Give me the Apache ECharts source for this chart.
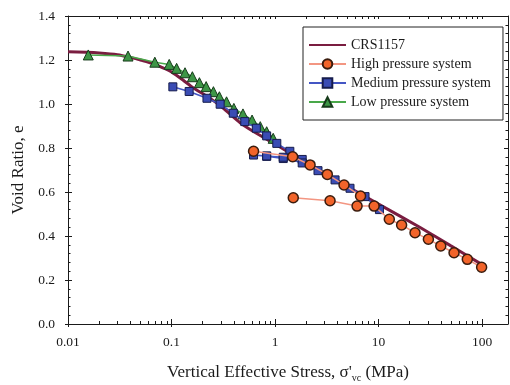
<!DOCTYPE html>
<html>
<head>
<meta charset="utf-8">
<script src="https://cdn.jsdelivr.net/npm/echarts@6/dist/echarts.min.js"></script>
<style>
  html, body { margin: 0; padding: 0; background: #fff; }
  #chart { width: 510px; height: 385px; }
</style>
</head>
<body>
<div id="chart"></div>
<script>
// Stress axis (log scale, MPa)
const stressMajorTicks = [0.01, 0.1, 1, 10, 100];
const stressTickLabels = ['0.01', '0.1', '1', '10', '100'];
const stressMin = 0.01;
const stressMax = 178;

// Void ratio axis
const ratioMin = 0;
const ratioMax = 1.4;
const ratioStep = 0.2;

// CRS1157 constant-rate-of-strain curve: [stress MPa, void ratio]
const crsCurve = [
  [0.01, 1.237], [0.015, 1.235], [0.02, 1.232], [0.03, 1.224], [0.04, 1.212],
  [0.05, 1.2], [0.06, 1.19], [0.072, 1.177], [0.085, 1.162], [0.1, 1.146],
  [0.129, 1.109], [0.16, 1.075], [0.22, 1.035], [0.3, 0.99], [0.38, 0.948],
  [0.46, 0.915], [0.55, 0.89], [0.7, 0.86], [1, 0.818], [2, 0.733],
  [5, 0.625], [10, 0.545], [25, 0.44], [50, 0.355], [100, 0.27]
];

// High pressure system (two loading branches, separated by a gap)
const highPressure = [
  [0.62, 0.785], [1.48, 0.76], [2.18, 0.723], [3.2, 0.68], [4.64, 0.632], [6.7, 0.582],
  '-',
  [1.5, 0.574], [3.4, 0.56], [6.2, 0.536], [9.06, 0.536], [12.7, 0.476],
  [16.7, 0.45], [22.5, 0.415], [30.3, 0.385], [39.9, 0.355], [53.6, 0.324],
  [72, 0.294], [99, 0.258]
];

// Medium pressure system (with an unload–reload loop)
const mediumPressure = [
  [0.103, 1.078], [0.148, 1.057], [0.22, 1.026], [0.295, 0.999], [0.395, 0.958],
  [0.51, 0.92], [0.66, 0.89], [0.83, 0.855], [1.04, 0.821], [1.39, 0.785],
  [1.83, 0.748], [1.2, 0.752], [0.83, 0.762], [0.62, 0.768], [0.83, 0.764],
  [1.2, 0.758], [1.83, 0.732], [2.6, 0.697], [3.8, 0.655], [5.3, 0.617],
  [7.4, 0.579], [10.2, 0.52]
];

// Low pressure system
const lowPressure = [
  [0.0157, 1.223], [0.038, 1.218], [0.069, 1.19], [0.095, 1.18], [0.112, 1.162],
  [0.135, 1.142], [0.159, 1.124], [0.186, 1.097], [0.216, 1.079], [0.254, 1.056],
  [0.29, 1.033], [0.34, 1.01], [0.40, 0.98], [0.49, 0.955], [0.60, 0.927],
  [0.72, 0.897], [0.83, 0.874], [0.96, 0.844]
];

// Minor log ticks 1..9 within every decade
const stressAllTicks = [];
stressMajorTicks.forEach(d => {
  for (let k = 1; k <= 9; k++) {
    const v = +(d * k).toPrecision(6);
    if (v >= stressMin && v <= stressMax) stressAllTicks.push(v);
  }
});

const serif = 'Liberation Serif, Times New Roman, serif';
const ink = '#1a1a1a';
const frameLine = { show: true, onZero: false, lineStyle: { color: ink, width: 1 } };

function stressAxis(opts) {
  return Object.assign({
    type: 'log',
    logBase: 10,
    min: stressMin,
    max: stressMax,
    axisLine: { show: false, onZero: false },
    axisLabel: { show: false },
    axisTick: { show: false },
    splitLine: { show: false },
    minorTick: { show: false },
    minorSplitLine: { show: false }
  }, opts);
}

function ratioAxis(opts) {
  return Object.assign({
    type: 'value',
    min: ratioMin,
    max: ratioMax,
    interval: ratioStep,
    axisLine: { show: false, onZero: false },
    axisLabel: { show: false },
    axisTick: { show: false },
    splitLine: { show: false },
    minorTick: { show: false }
  }, opts);
}

const chart = echarts.init(document.getElementById('chart'), null, { renderer: 'canvas' });

chart.setOption({
  backgroundColor: '#ffffff',
  animation: false,
  grid: { left: 68, right: 2, top: 16, bottom: 61, containLabel: false, outerBoundsMode: 'none' },
  legend: {
    data: [
      { name: 'CRS1157', itemStyle: { opacity: 0 } },
      'High pressure system', 'Medium pressure system', 'Low pressure system'
    ],
    orient: 'vertical',
    left: 303,
    top: 27,
    padding: [11, 12, 11, 5],
    itemWidth: 37,
    itemHeight: 12,
    itemGap: 5,
    borderColor: '#222',
    borderWidth: 1,
    backgroundColor: '#fff',
    textStyle: { fontFamily: serif, fontSize: 14, color: ink }
  },
  xAxis: [
    stressAxis({
      position: 'bottom',
      name: "{a|Vertical Effective Stress, σ'}{s|vc}{a| (MPa)}",
      nameLocation: 'middle',
      nameGap: 39,
      nameTextStyle: {
        rich: {
          a: { fontFamily: serif, fontSize: 17, color: ink, lineHeight: 20 },
          s: { fontFamily: serif, fontSize: 10, color: ink, lineHeight: 20, verticalAlign: 'bottom', padding: [9, 0, 0, 0] }
        }
      },
      axisLine: frameLine,
      axisTick: { show: true, inside: false, length: 3, customValues: stressMajorTicks, lineStyle: { color: ink } },
      axisLabel: {
        show: true, customValues: stressMajorTicks, margin: 11,
        fontFamily: serif, fontSize: 13.5, color: ink,
        formatter: v => stressTickLabels[stressMajorTicks.findIndex(t => Math.abs(Math.log10(t) - Math.log10(v)) < 1e-6)] ?? ''
      }
    }),
    stressAxis({
      position: 'bottom',
      axisTick: { show: true, inside: true, length: 3, customValues: stressAllTicks, lineStyle: { color: ink } }
    }),
    stressAxis({
      position: 'bottom',
      axisTick: { show: true, inside: true, length: 5, customValues: stressMajorTicks, lineStyle: { color: ink } }
    }),
    stressAxis({
      position: 'top',
      axisLine: frameLine,
      axisTick: { show: true, inside: true, length: 3, customValues: stressAllTicks, lineStyle: { color: ink } }
    })
  ],
  yAxis: [
    ratioAxis({
      position: 'left',
      name: 'Void Ratio, e',
      nameLocation: 'middle',
      nameGap: 36,
      nameRotate: 90,
      nameTextStyle: { fontFamily: serif, fontSize: 17, color: ink },
      axisLine: frameLine,
      axisTick: { show: true, inside: true, length: 4, lineStyle: { color: ink } },
      minorTick: { show: true, splitNumber: 5, length: 2.5, lineStyle: { color: ink } },
      axisLabel: {
        show: true, margin: 13, fontFamily: serif, fontSize: 13.5, color: ink,
        formatter: v => v.toFixed(1)
      }
    }),
    ratioAxis({
      position: 'left',
      axisTick: { show: true, inside: false, length: 3, lineStyle: { color: ink } }
    }),
    ratioAxis({
      position: 'right',
      axisLine: frameLine,
      axisTick: { show: true, inside: true, length: 4, lineStyle: { color: ink } },
      minorTick: { show: true, splitNumber: 5, length: 2.5, lineStyle: { color: ink } }
    })
  ],
  series: [
    {
      name: 'CRS1157',
      type: 'line',
      data: crsCurve,
      smooth: 0.15,
      showSymbol: false,
      symbol: 'none',
      lineStyle: { color: '#7a1d40', width: 3 },
      itemStyle: { color: '#7a1d40' },
      z: 2
    },
    {
      name: 'Low pressure system',
      type: 'line',
      data: lowPressure,
      symbol: 'triangle',
      symbolSize: 10,
      lineStyle: { color: '#49a84a', width: 1.5 },
      itemStyle: { color: '#3d9646', borderColor: '#163a1a', borderWidth: 1 },
      z: 3
    },
    {
      name: 'Medium pressure system',
      type: 'line',
      data: mediumPressure,
      symbol: 'rect',
      symbolSize: 8,
      lineStyle: { color: '#4456c4', width: 1.5 },
      itemStyle: { color: '#3a4cb4', borderColor: '#161c4c', borderWidth: 1 },
      z: 4
    },
    {
      name: 'High pressure system',
      type: 'line',
      data: highPressure,
      connectNulls: false,
      symbol: 'circle',
      symbolSize: 10,
      lineStyle: { color: '#f39682', width: 1.5 },
      itemStyle: { color: '#f2642a', borderColor: '#3a1c0e', borderWidth: 1.5 },
      z: 5
    }
  ]
});
</script>
</body>
</html>
